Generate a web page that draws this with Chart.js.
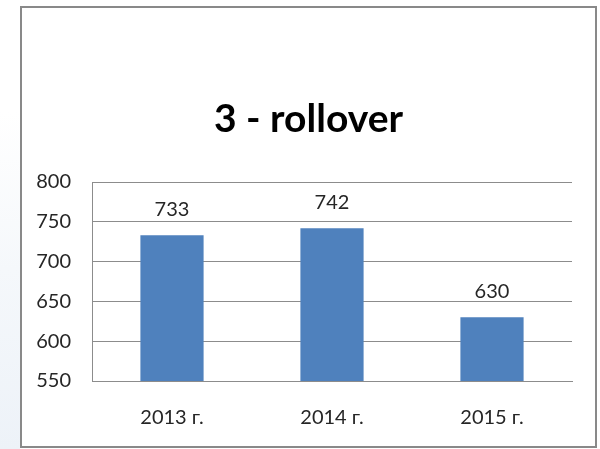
<!DOCTYPE html>
<html>
<head>
<meta charset="utf-8">
<script src="https://cdn.jsdelivr.net/npm/chart.js@4"></script>
<style>
  html, body { margin: 0; padding: 0; background: #ffffff; }
  #wrap { position: relative; width: 600px; height: 449px; overflow: hidden; }
  #side { position: absolute; left: 0; top: 0; width: 20px; height: 449px;
          background: linear-gradient(to top, #edf2f8 0%, #f5f8fb 40%, #ffffff 75%); }
  #frame { position: absolute; left: 20px; top: 6px; width: 573px; height: 438px;
           border: 2px solid #898989; background: #ffffff; }
  #c { position: absolute; left: 0; top: 0; }
</style>
</head>
<body>
<div id="wrap">
  <div id="side"></div>
  <div id="frame"></div>
  <canvas id="c" width="600" height="449"></canvas>
</div>
<script>
const categories = ['2013 г.', '2014 г.', '2015 г.'];
const values = [733, 742, 630];
const yTicks = [550, 600, 650, 700, 750, 800];
const chartTitle = '3 - rollover';

const FONT = 'Lato, "Open Sans", sans-serif';
const TEXT = '#262626';
const GRID = '#8c8c8c';

// frame (chart border box) horizontal extent, used to centre the title on it
const FRAME_LEFT = 20, FRAME_RIGHT = 597;

const frameTitle = {
  id: 'frameTitle',
  afterDraw(chart) {
    const ctx = chart.ctx;
    ctx.save();
    ctx.font = 'bold 39px ' + FONT;
    ctx.fillStyle = '#000000';
    ctx.textAlign = 'center';
    ctx.textBaseline = 'alphabetic';
    ctx.fillText(chartTitle, (FRAME_LEFT + FRAME_RIGHT) / 2, 132);
    ctx.restore();
  }
};

const valueLabels = {
  id: 'valueLabels',
  afterDatasetsDraw(chart) {
    const ctx = chart.ctx;
    const meta = chart.getDatasetMeta(0);
    ctx.save();
    ctx.font = '20px ' + FONT;
    ctx.fillStyle = TEXT;
    ctx.textAlign = 'center';
    ctx.textBaseline = 'alphabetic';
    meta.data.forEach((bar, i) => {
      ctx.fillText(String(values[i]), bar.x, bar.y - 19.5);
    });
    ctx.restore();
  }
};

new Chart(document.getElementById('c'), {
  type: 'bar',
  data: {
    labels: categories,
    datasets: [{
      data: values,
      backgroundColor: '#4f81bd',
      borderWidth: 0,
      categoryPercentage: 1,
      barPercentage: 0.395
    }]
  },
  options: {
    responsive: false,
    animation: false,
    devicePixelRatio: 1,
    layout: { padding: { left: 0, right: 28, top: 182, bottom: 0 } },
    plugins: {
      legend: { display: false },
      tooltip: { enabled: false },
      title: { display: false }
    },
    scales: {
      y: {
        min: yTicks[0],
        max: yTicks[yTicks.length - 1],
        afterBuildTicks(scale) { scale.ticks = yTicks.map(v => ({ value: v })); },
        afterFit(scale) { scale.width = 92; },
        ticks: { color: TEXT, font: { family: FONT, size: 20 }, padding: 21 },
        grid: { color: GRID, drawTicks: false, lineWidth: 1 },
        border: { display: true, color: GRID, width: 1 }
      },
      x: {
        afterFit(scale) { scale.height = 68; },
        ticks: { color: TEXT, font: { family: FONT, size: 20 }, padding: 25, maxRotation: 0 },
        grid: { display: false, drawTicks: false },
        border: { display: true, color: GRID, width: 1 }
      }
    }
  },
  plugins: [valueLabels, frameTitle]
});
</script>
</body>
</html>
